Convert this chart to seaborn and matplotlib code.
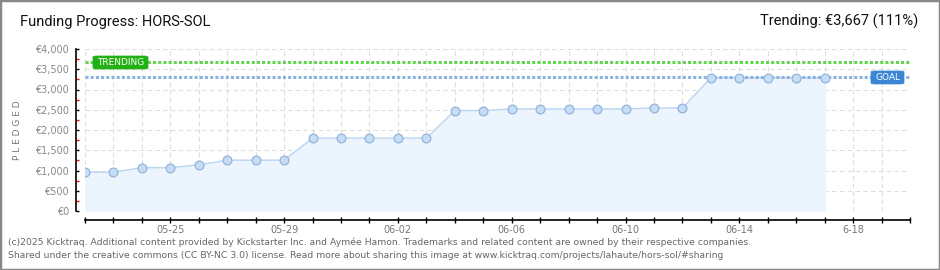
import matplotlib
matplotlib.use("Agg")
import matplotlib.pyplot as plt
import seaborn as sns
import pandas as pd
import numpy as np
from matplotlib.patches import FancyBboxPatch, Rectangle
from matplotlib.ticker import MultipleLocator, FixedLocator, FuncFormatter

# ---- data ----
dates = ["05-22", "05-23", "05-24", "05-25", "05-26", "05-27", "05-28", "05-29",
         "05-30", "05-31", "06-01", "06-02", "06-03", "06-04", "06-05", "06-06",
         "06-07", "06-08", "06-09", "06-10", "06-11", "06-12", "06-13", "06-14",
         "06-15", "06-16", "06-17"]
pledged = [960, 960, 1070, 1070, 1140, 1255, 1255, 1255,
           1800, 1800, 1800, 1800, 1800, 2480, 2480, 2520,
           2520, 2520, 2520, 2520, 2545, 2545, 3290, 3290,
           3290, 3290, 3290]
goal = 3300
trending = 3667
trending_pct = 111
x_label_days = ["05-25", "05-29", "06-02", "06-06", "06-10", "06-14", "06-18"]
x_label_text = ["05-25", "05-29", "06-02", "06-06", "06-10", "06-14", "6-18"]
axis_start = "05-22"
axis_end = "06-20"
y_ticks = [0, 500, 1000, 1500, 2000, 2500, 3000, 3500, 4000]

# ---- prep ----
def day_index(d):
    return (pd.to_datetime("2025-" + d) - pd.to_datetime("2025-" + axis_start)).days

df = pd.DataFrame({"day": [day_index(d) for d in dates], "pledged": pledged})
end_day = day_index(axis_end)

sns.set_theme(style="white")
plt.rcParams["font.family"] = ["DejaVu Sans"]

W, H = 940, 270
fig = plt.figure(figsize=(W / 100, H / 100), dpi=100)
fig.patch.set_facecolor("white")

ax = fig.add_axes([85 / W, (H - 211) / H, 825 / W, 162 / H])
ax.set_facecolor("white")

ax.set_xlim(0, end_day)
ax.set_ylim(0, 4000)

# fill + line + points
ax.fill_between(df["day"], df["pledged"], color="#ecf4fd", zorder=1)
sns.lineplot(data=df, x="day", y="pledged", ax=ax, color="#b9d5f2", linewidth=1.0, zorder=2)

# goal & trending lines
ax.axhline(trending, color="#62d64e", linewidth=2.2, linestyle=(0, (1.0, 0.7)), zorder=3)
ax.axhline(goal, color="#8db2e0", linewidth=2.2, linestyle=(0, (1.0, 0.7)), zorder=3)

sns.scatterplot(data=df, x="day", y="pledged", ax=ax, s=40, color="#c6ddf6",
                edgecolor="#94b4da", linewidth=0.9, zorder=4)

# ticks / grid
ax.xaxis.set_major_locator(FixedLocator([day_index(d) for d in x_label_days]))
ax.set_xticklabels(x_label_text)
ax.xaxis.set_minor_locator(MultipleLocator(1))
ax.yaxis.set_major_locator(FixedLocator(y_ticks))
ax.yaxis.set_minor_locator(FixedLocator([v + 250 for v in y_ticks[:-1]]))
ax.grid(True, which="both", axis="x", color="#dddddd", linestyle=(0, (4, 3)), linewidth=0.8)
ax.grid(True, which="major", axis="y", color="#dddddd", linestyle=(0, (4, 3)), linewidth=0.8)
ax.set_axisbelow(True)

# labels boxes
def label_box(xpx, ypx, wpx, hpx, text, fc):
    box = FancyBboxPatch((xpx / W, 1 - (ypx + hpx) / H), wpx / W, hpx / H,
                         boxstyle="round,pad=0,rounding_size=0.004",
                         transform=fig.transFigure, facecolor=fc, edgecolor=fc,
                         linewidth=0.5, zorder=10)
    fig.patches.append(box)
    fig.text((xpx + wpx / 2) / W, 1 - (ypx + hpx / 2) / H, text, color="white",
             fontsize=6.5, ha="center", va="center", zorder=11)

label_box(93, 56, 55, 13, "TRENDING", "#22b014")
label_box(871, 71, 33, 13, "GOAL", "#3a86d4")

# axes styling (spines offset by 9 px = 6.5 pt)
for s in ["top", "right"]:
    ax.spines[s].set_visible(False)
ax.spines["left"].set_position(("outward", 6.5))
ax.spines["bottom"].set_position(("outward", 6.5))
for s in ["left", "bottom"]:
    ax.spines[s].set_color("black")
    ax.spines[s].set_linewidth(1.2)

ax.tick_params(axis="x", which="both", direction="inout", length=4, width=1, color="black",
               bottom=True)
ax.tick_params(axis="x", which="major", pad=1.5, labelsize=7, labelcolor="#777777")

ax.yaxis.set_major_formatter(FuncFormatter(lambda v, p: "€{:,.0f}".format(v)))
ax.tick_params(axis="y", which="major", direction="in", length=2.5, width=1, color="black",
               left=True, labelsize=7, labelcolor="#888888", pad=5)
ax.tick_params(axis="y", which="minor", direction="in", length=2.5, width=1, color="#ee0000",
               left=True)

ax.set_xlabel("")
ax.set_ylabel("P L E D G E D", fontsize=6.5, color="#777777")
ax.yaxis.set_label_coords((22 - 85) / 825, 0.5)

# titles
fig.text(20 / W, 1 - 22 / H, "Funding Progress: HORS-SOL", fontsize=10.5, color="#111111",
         ha="left", va="center", family=["Roboto", "DejaVu Sans"])
fig.text(918 / W, 1 - 21 / H, "Trending: €{:,} ({}%)".format(trending, trending_pct),
         fontsize=10.5, color="#111111", ha="right", va="center",
         family=["Roboto", "DejaVu Sans"])

# footer
fig.text(8 / W, 1 - 242 / H,
         "(c)2025 Kicktraq. Additional content provided by Kickstarter Inc. and Aymée Hamon. "
         "Trademarks and related content are owned by their respective companies.",
         fontsize=6.7, color="#666666", ha="left", va="center")
fig.text(8 / W, 1 - 255 / H,
         "Shared under the creative commons (CC BY-NC 3.0) license. Read more about sharing "
         "this image at www.kicktraq.com/projects/lahaute/hors-sol/#sharing",
         fontsize=6.7, color="#666666", ha="left", va="center")

# frame
fig.patches.append(Rectangle((0, 0), 1, 1, transform=fig.transFigure, fill=False,
                             edgecolor="#888888", linewidth=2.5, zorder=20))

fig.savefig("out.png", dpi=100, facecolor="white")
